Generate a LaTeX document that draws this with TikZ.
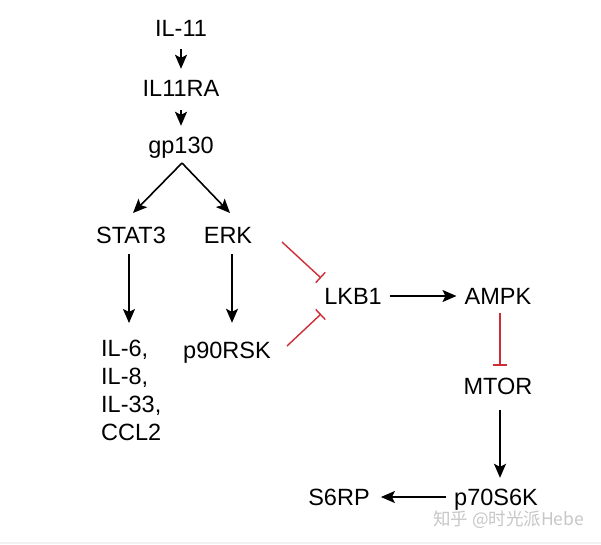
\documentclass[tikz,border=0pt]{standalone}
\usepackage{fontspec}
\setmainfont{Liberation Sans}
\newfontfamily\cjk{Noto Sans CJK SC}
\usetikzlibrary{arrows.meta}
\definecolor{inhred}{RGB}{205,45,55}
\tikzset{
  lbl/.style={inner sep=0pt, text height=18pt, text depth=2pt, font=\fontsize{23.5}{28}\selectfont},
  arr/.style={line width=1.6pt, -{Stealth[length=14pt,width=12pt,inset=3pt]}},
  inh/.style={line width=1.4pt, draw=inhred, -{Bar[width=14pt,line width=1.4pt]}},
}
\begin{document}
\begin{tikzpicture}[x=1pt,y=-1pt]
\useasboundingbox (0,0) rectangle (601,544);
\fill[white] (0,0) rectangle (601,544);
\fill[black!5] (0,542) rectangle (601,544);

\node[lbl] (il11) at (181,28) {IL-11};
\node[lbl] (il11ra) at (181,88) {IL11RA};
\node[lbl] (gp130) at (181,145) {gp130};
\node[lbl] (stat3) at (131,235) {STAT3};
\node[lbl] (erk) at (228,235) {ERK};
\node[lbl, anchor=north west, align=left, text height=, text depth=] (il6) at (101,340) {IL-6,\\IL-8,\\IL-33,\\CCL2};
\node[lbl] (p90) at (227,350) {p90RSK};
\node[lbl] (lkb1) at (353,296) {LKB1};
\node[lbl] (ampk) at (498,296) {AMPK};
\node[lbl] (mtor) at (498,386) {MTOR};
\node[lbl] (p70) at (496,497) {p70S6K};
\node[lbl] (s6rp) at (339,497) {S6RP};
\node[anchor=west, inner sep=0pt, text=black!22, font=\cjk\fontsize{17.5}{18}\selectfont] (wm) at (433,520) {知乎 @时光派Hebe};

\coordinate (split) at (182,163);
\coordinate (tipL) at (133,213);
\coordinate (tipR) at (230,213);
\coordinate (i1s) at (282,242);
\coordinate (i1e) at (321,278);
\coordinate (i2s) at (287,346);
\coordinate (i2e) at (321,314);

\draw[arr, shorten <=11pt, shorten >=9pt] (il11.south) -- (il11ra.north);
\draw[arr, shorten <=12pt, shorten >=9pt] (il11ra.south) -- (gp130.north);
\draw[arr] (split) -- (tipL);
\draw[arr] (split) -- (tipR);
\draw[arr, shorten <=9pt, shorten >=17pt] ([xshift=-2pt]stat3.south) -- ([xshift=-2pt]stat3.south |- il6.north);
\draw[arr, shorten <=9pt, shorten >=17pt] ([xshift=4pt]erk.south) -- ([xshift=4pt]erk.south |- p90.north);
\draw[inh] (i1s) -- (i1e);
\draw[inh] (i2s) -- (i2e);
\draw[arr, shorten <=8pt, shorten >=8pt] (lkb1.east) -- (ampk.west);
\draw[inh, shorten <=7pt, shorten >=10pt] ([xshift=2pt]ampk.south) -- ([xshift=2pt]mtor.north);
\draw[arr, shorten <=14pt, shorten >=9pt] ([xshift=2pt]mtor.south) -- ([xshift=2pt]mtor.south |- p70.north);
\draw[arr, shorten <=8pt, shorten >=11pt] (p70.west) -- (s6rp.east);
\end{tikzpicture}
\end{document}
